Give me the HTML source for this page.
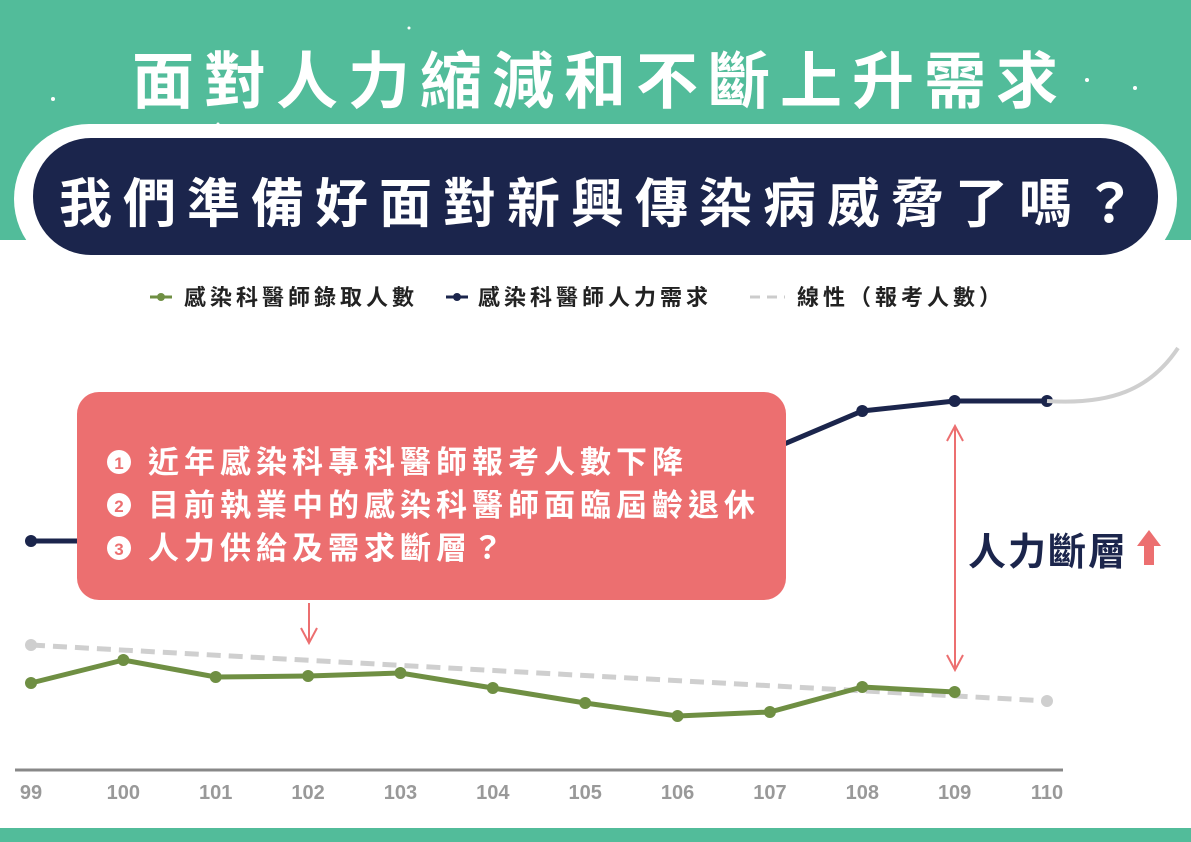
<!DOCTYPE html>
<html><head><meta charset="utf-8"><style>
html,body{margin:0;padding:0;background:#fff}
body{width:1191px;height:842px;position:relative;overflow:hidden;font-family:"Liberation Sans","Noto Sans CJK TC",sans-serif}
</style></head><body>
<svg width="1191" height="842" viewBox="0 0 1191 842" xmlns="http://www.w3.org/2000/svg" style="position:absolute;left:0;top:0" font-family="'Liberation Sans','Noto Sans CJK TC',sans-serif">
<rect x="0" y="0" width="1191" height="240" fill="#52bc9a"/>
<rect x="14" y="124" width="1163" height="150" rx="75" fill="#fff"/>
<rect x="33" y="138" width="1125" height="117" rx="58" fill="#1b254c"/>
<g fill="#fff"><circle cx="53" cy="99" r="2"/><circle cx="1087" cy="80" r="2"/><circle cx="1135" cy="88" r="2"/><circle cx="409" cy="28" r="1.5"/><circle cx="218" cy="124" r="1.5"/></g>
<text x="600" y="103" text-anchor="middle" font-size="62" font-weight="bold" fill="#fff" letter-spacing="10">面對人力縮減和不斷上升需求</text>
<text x="603" y="222" text-anchor="middle" font-size="53" font-weight="bold" fill="#fff" letter-spacing="11">我們準備好面對新興傳染病威脅了嗎？</text>
<g font-size="22" font-weight="bold" fill="#222" letter-spacing="4">
<line x1="150" y1="297" x2="172" y2="297" stroke="#6f8f43" stroke-width="3"/><circle cx="161" cy="297" r="4" fill="#6f8f43"/>
<text x="184" y="305">感染科醫師錄取人數</text>
<line x1="446" y1="297" x2="468" y2="297" stroke="#1b254c" stroke-width="3"/><circle cx="457" cy="297" r="4" fill="#1b254c"/>
<text x="478" y="305">感染科醫師人力需求</text>
<line x1="750" y1="297" x2="785" y2="297" stroke="#ccc" stroke-width="3" stroke-dasharray="10,7"/>
<text x="797" y="305">線性（報考人數）</text>
</g>
<line x1="15" y1="770" x2="1063" y2="770" stroke="#888" stroke-width="3"/>
<g id="chart"></g>
<path d="M1047 401 C1110 405 1150 390 1178 348" fill="none" stroke="#cfcfcf" stroke-width="4"/>
<rect x="77" y="392" width="709" height="208" rx="22" fill="#ec6f70"/>
<g font-size="31" font-weight="bold" fill="#fff" letter-spacing="5">
<circle cx="119" cy="462" r="12" fill="#fff"/><text x="119" y="469" text-anchor="middle" font-size="17" fill="#ec6f70" letter-spacing="0">1</text>
<text x="148" y="473">近年感染科專科醫師報考人數下降</text>
<circle cx="119" cy="505" r="12" fill="#fff"/><text x="119" y="512" text-anchor="middle" font-size="17" fill="#ec6f70" letter-spacing="0">2</text>
<text x="148" y="516">目前執業中的感染科醫師面臨屆齡退休</text>
<circle cx="119" cy="548" r="12" fill="#fff"/><text x="119" y="555" text-anchor="middle" font-size="17" fill="#ec6f70" letter-spacing="0">3</text>
<text x="148" y="559">人力供給及需求斷層？</text>
</g>
<g stroke="#ec6f70" stroke-width="2" fill="none"><line x1="309" y1="603" x2="309" y2="642"/><polyline points="301,628 309,643 317,628"/></g>
<g stroke="#ec6f70" stroke-width="2" fill="none"><line x1="955" y1="426" x2="955" y2="670"/><polyline points="947,441 955,426 963,441"/><polyline points="947,655 955,670 963,655"/></g>
<text x="968" y="565" font-size="38" font-weight="bold" fill="#1b254c" letter-spacing="2">人力斷層</text>
<path d="M1149 530 L1161 546 L1154 546 L1154 565 L1144 565 L1144 546 L1137 546 Z" fill="#ec6f70"/>
<rect x="0" y="828" width="1191" height="14" fill="#52bc9a"/>
</svg>
<script>
const years = ["99","100","101","102","103","104","105","106","107","108","109","110"];
const admitted = [21.75,27.5,23.25,23.5,24.25,20.5,16.75,13.5,14.5,20.75,19.5];
const demand = [57.25,57.25,62,66,70,74,76,78,80,89.75,92.25,92.25];
const trendStart = 31.25;
const trendEnd = 17.25;
const NS="http://www.w3.org/2000/svg";
const g=document.getElementById('chart');
function xs(i){return 31+i*(1047-31)/11;}
function ys(v){return 770-v*4;}
function el(t,a){const e=document.createElementNS(NS,t);for(const k in a)e.setAttribute(k,a[k]);g.appendChild(e);return e;}
const tl=el('line',{x1:xs(0),y1:ys(trendStart),x2:xs(11),y2:ys(trendEnd),stroke:'#cfcfcf','stroke-width':5,'stroke-dasharray':'14,8'});


[0,11].forEach(i=>{const c=el('circle',{cx:xs(i),cy:ys(i==0?trendStart:trendEnd),r:6,fill:'#cfcfcf'});

});
const dl=el('polyline',{points:demand.map((v,i)=>xs(i)+','+ys(v)).join(' '),fill:'none',stroke:'#1b254c','stroke-width':5});


demand.forEach((v,i)=>{const c=el('circle',{cx:xs(i),cy:ys(v),r:6,fill:'#1b254c'});

});
const al=el('polyline',{points:admitted.map((v,i)=>xs(i)+','+ys(v)).join(' '),fill:'none',stroke:'#6f8f43','stroke-width':5});


admitted.forEach((v,i)=>{const c=el('circle',{cx:xs(i),cy:ys(v),r:6,fill:'#6f8f43'});

});
years.forEach((y,i)=>{const t=el('text',{x:xs(i),y:799,'text-anchor':'middle','font-size':20,'font-weight':'bold',fill:'#999'});t.textContent=y;

});
</script>
</body></html>
